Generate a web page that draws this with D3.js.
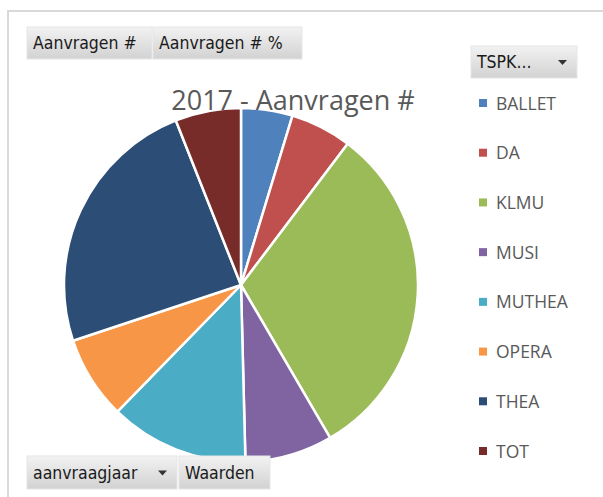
<!DOCTYPE html>
<html>
<head>
<meta charset="utf-8">
<script src="https://cdn.jsdelivr.net/npm/d3@7"></script>
<style>
  html, body { margin: 0; padding: 0; background: #fff; }
</style>
</head>
<body>
<div id="chart"></div>
<script>
// data
const categories = ["BALLET", "DA", "KLMU", "MUSI", "MUTHEA", "OPERA", "THEA", "TOT"];
const values = [47, 56, 313, 80, 127, 76, 241, 60];
const colors = ["#4F81BD", "#C0504D", "#9BBB59", "#8064A2", "#4BACC6", "#F79646", "#2C4D75", "#772C2A"];
const title = "2017 - Aanvragen #";
const topButtons = ["Aanvragen #", "Aanvragen # %"];
const bottomButtons = ["aanvraagjaar", "Waarden"];
const legendButton = "TSPK...";

const width = 603, height = 497;

const svg = d3.select("#chart").append("svg")
    .attr("width", width)
    .attr("height", height)
    .style("font-family", "'Open Sans', sans-serif");

const defs = svg.append("defs");
const grad = defs.append("linearGradient")
    .attr("id", "btn")
    .attr("x1", 0).attr("y1", 0).attr("x2", 0).attr("y2", 1);
grad.append("stop").attr("offset", "0%").attr("stop-color", "#f2f2f2");
grad.append("stop").attr("offset", "100%").attr("stop-color", "#d2d2d2");

// chart area border (only top and left visible)
svg.append("path")
    .attr("d", `M8,${height} V11 H${width}`)
    .attr("fill", "none")
    .attr("stroke", "#d9d9d9")
    .attr("stroke-width", 2);

// pie
const cx = 241, cy = 285, radius = 177;
const pie = d3.pie().sort(null).value(d => d)(values);
const arc = d3.arc().innerRadius(0).outerRadius(radius);

svg.append("g")
    .attr("transform", `translate(${cx},${cy})`)
    .selectAll("path")
    .data(pie)
    .join("path")
    .attr("d", arc)
    .attr("fill", (d, i) => colors[i])
    .attr("stroke", "#fff")
    .attr("stroke-width", 2.5)
    .attr("stroke-linejoin", "round");

// title
svg.append("text")
    .attr("x", 293)
    .attr("y", 110)
    .attr("text-anchor", "middle")
    .attr("fill", "#595959")
    .style("font-size", "27px")
    .text(title);

// pivot field buttons
function button(x, y, w, h, label, dropdown) {
    const g = svg.append("g").attr("transform", `translate(${x},${y})`);
    g.append("rect")
        .attr("width", w).attr("height", h)
        .attr("fill", "url(#btn)")
        .attr("stroke", "#e6e6e6")
        .attr("stroke-width", 1);
    g.append("text")
        .attr("x", 6)
        .attr("y", h / 2 + 6)
        .attr("fill", "#1a1a1a")
        .style("font-family", "'DejaVu Sans Condensed', 'DejaVu Sans', sans-serif")
        .style("font-size", "17.5px")
        .text(label);
    if (dropdown) {
        g.append("path")
            .attr("d", `M${w - 19},${h / 2 - 2} h9 l-4.5,5 z`)
            .attr("fill", "#333");
    }
}

button(27, 27, 125, 32, topButtons[0], false);
button(153, 27, 149, 32, topButtons[1], false);
button(471, 46, 106, 32, legendButton, true);
button(27, 456, 150, 33, bottomButtons[0], true);
button(179, 456, 91, 33, bottomButtons[1], false);

// legend
const legendY = d3.scalePoint()
    .domain(categories)
    .range([103, 451]);

const legend = svg.append("g")
    .selectAll("g")
    .data(categories)
    .join("g")
    .attr("transform", d => `translate(479,${legendY(d)})`);

legend.append("rect")
    .attr("x", 0).attr("y", -4)
    .attr("width", 8).attr("height", 8)
    .attr("fill", (d, i) => colors[i]);

legend.append("text")
    .attr("x", 17)
    .attr("y", 6.5)
    .attr("fill", "#595959")
    .style("font-size", "17.5px")
    .text(d => d);
</script>
</body>
</html>
